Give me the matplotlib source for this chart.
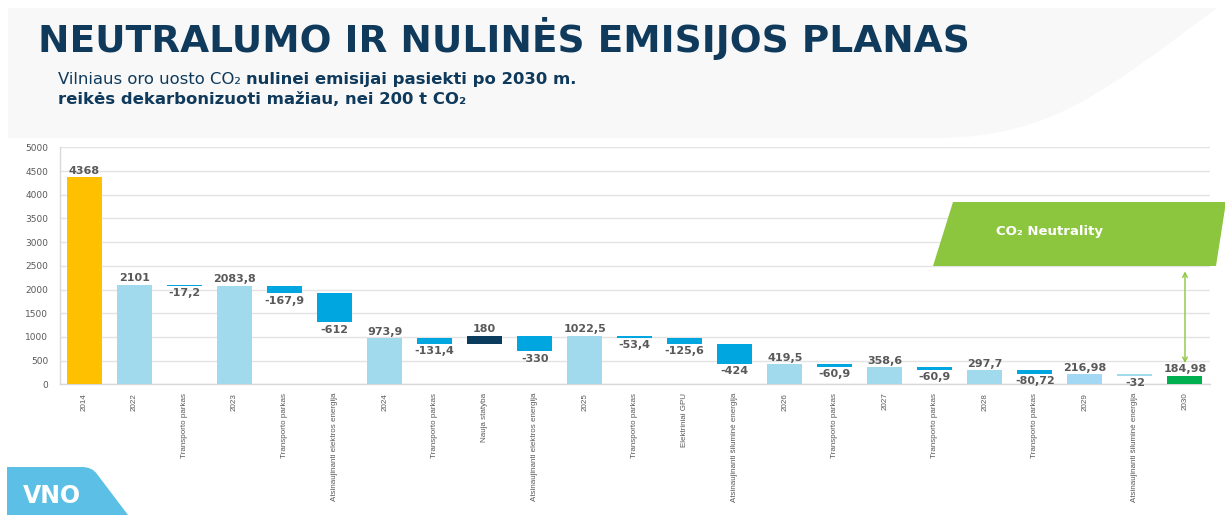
import matplotlib
matplotlib.use('Agg')
import matplotlib.pyplot as plt
from matplotlib.patches import Polygon, PathPatch
from matplotlib.path import Path

# ---------------- data ----------------
categories = ['2014', '2022', 'Transporto parkas', '2023', 'Transporto parkas',
              'Atsinaujinanti elektros energija', '2024', 'Transporto parkas',
              'Nauja statyba', 'Atsinaujinanti elektros energija', '2025',
              'Transporto parkas', 'Elektriniai GPU', 'Atsinaujinanti šiluminė energija',
              '2026', 'Transporto parkas', '2027', 'Transporto parkas', '2028',
              'Transporto parkas', '2029', 'Atsinaujinanti šiluminė energija', '2030']
values = [4368, 2101, -17.2, 2083.8, -167.9, -612, 973.9, -131.4, 180, -330,
          1022.5, -53.4, -125.6, -424, 419.5, -60.9, 358.6, -60.9, 297.7,
          -80.72, 216.98, -32, 184.98]
is_total = [True, True, False, True, False, False, True, False, False, False,
            True, False, False, False, True, False, True, False, True, False,
            True, False, True]
y_ticks = list(range(0, 5001, 500))

title = 'NEUTRALUMO IR NULINĖS EMISIJOS PLANAS'
sub1_normal = 'Vilniaus oro uosto CO₂ '
sub1_bold = 'nulinei emisijai pasiekti po 2030 m.'
sub2_bold = 'reikės dekarbonizuoti mažiau, nei 200 t CO₂'
badge_text = 'CO₂ Neutrality'
logo_text = 'VNO'

# ---------------- style ----------------
C_TOTAL = '#A0DAEC'
C_NEG = '#00A6E0'
bar_colors = ['#FFC000', C_TOTAL, C_NEG, C_TOTAL, C_NEG, C_NEG, C_TOTAL, C_NEG,
              '#0B3C5D', C_NEG, C_TOTAL, C_NEG, C_NEG, C_NEG, C_TOTAL, C_NEG,
              C_TOTAL, C_NEG, C_TOTAL, C_NEG, '#A3D8F5', C_TOTAL, '#00B050']
NAVY = '#0F3A5C'
GRAY_TXT = '#595959'
GREEN = '#8CC63F'

W, H = 1225, 515
fig = plt.figure(figsize=(W / 100, H / 100), dpi=100)
fig.patch.set_facecolor('white')

# background overlay (pixel coordinates, y downward)
bg = fig.add_axes([0, 0, 1, 1], zorder=0)
bg.set_xlim(0, W)
bg.set_ylim(H, 0)
bg.axis('off')

verts = [(8, 8), (1217, 8), (1100, 95), (1050, 136), (940, 138), (8, 138), (8, 8)]
codes = [Path.MOVETO, Path.LINETO, Path.CURVE4, Path.CURVE4, Path.CURVE4,
         Path.LINETO, Path.CLOSEPOLY]
bg.add_patch(PathPatch(Path(verts, codes), facecolor='#F8F8F8', edgecolor='none'))

# main axes
ax = fig.add_axes([59.5 / W, (H - 384.3) / H, (1210 - 59.5) / W, (384.3 - 147.3) / H],
                  zorder=2)
ax.patch.set_alpha(0)

running = 0.0
for i, (v, tot) in enumerate(zip(values, is_total)):
    if tot:
        bottom, height = 0.0, v
        running = v
    else:
        bottom, height = running, v
        running = running + v
    ax.bar(i, height, bottom=bottom, width=0.7, color=bar_colors[i],
           edgecolor='none', zorder=3)
    top = max(bottom, bottom + height)
    low = min(bottom, bottom + height)
    lab = f'{v:g}'.replace('.', ',')
    if v > 0:
        ax.annotate(lab, (i, top), xytext=(0, 1), textcoords='offset points',
                    ha='center', va='bottom', fontsize=8, fontweight='bold',
                    color=GRAY_TXT, zorder=4)
    else:
        ax.annotate(lab, (i, low), xytext=(0, -1.5), textcoords='offset points',
                    ha='center', va='top', fontsize=8, fontweight='bold',
                    color=GRAY_TXT, zorder=4)

ax.set_xlim(-0.5, len(categories) - 0.5)
ax.set_ylim(0, 5000)
ax.set_yticks(y_ticks)
ax.set_yticklabels([str(t) for t in y_ticks], fontsize=6.5, color=GRAY_TXT)
ax.set_xticks(range(len(categories)))
ax.set_xticklabels(categories, rotation=90, fontsize=5.8, color=GRAY_TXT,
                   family=['Liberation Sans', 'DejaVu Sans'])
ax.tick_params(axis='both', length=0, pad=6)
ax.tick_params(axis='y', pad=8)
ax.grid(axis='y', color='#E3E3E3', linewidth=1.0, zorder=0)
ax.set_axisbelow(True)
for s in ['top', 'right']:
    ax.spines[s].set_visible(False)
for s in ['left', 'bottom']:
    ax.spines[s].set_color('#D9D9D9')
    ax.spines[s].set_linewidth(1.0)

# arrow towards 2030 bar
ax.annotate('', xy=(len(categories) - 1, 390), xytext=(len(categories) - 1, 2440),
            arrowprops=dict(arrowstyle='<->', color=GREEN, lw=1.0,
                            mutation_scale=8), zorder=5, annotation_clip=False)

# foreground overlay
fg = fig.add_axes([0, 0, 1, 1], zorder=6)
fg.patch.set_alpha(0)
fg.set_xlim(0, W)
fg.set_ylim(H, 0)
fg.axis('off')

# green badge
fg.add_patch(Polygon([(953, 202), (1226, 202), (1216, 266), (933, 266)],
                     closed=True, facecolor=GREEN, edgecolor='none'))
fg.text(996, 231, badge_text, color='white', fontsize=9.5, fontweight='bold',
        ha='left', va='center', family='DejaVu Sans')

# VNO logo
lv = [(7, 515), (7, 467), (82, 467), (92, 467), (97, 474), (128, 515), (7, 515)]
lc = [Path.MOVETO, Path.LINETO, Path.LINETO, Path.CURVE3, Path.CURVE3,
      Path.LINETO, Path.CLOSEPOLY]
fg.add_patch(PathPatch(Path(lv, lc), facecolor='#5BBFE6', edgecolor='none'))
fg.text(23, 496, logo_text, color='white', fontsize=17, fontweight='bold',
        ha='left', va='center', family='DejaVu Sans')

# title & subtitle (auto-fit widths)
renderer = fig.canvas.get_renderer()
t = fg.text(38, 52, title, color=NAVY, fontsize=28, fontweight='bold',
            family='DejaVu Sans', ha='left', va='baseline')
w = t.get_window_extent(renderer).width
t.set_fontsize(28 * 932 / w)

fs = 11
s1 = fg.text(58, 84, sub1_normal, color=NAVY, fontsize=fs, ha='left', va='baseline',
             family='DejaVu Sans')
s1b = fg.text(0, 84, sub1_bold, color=NAVY, fontsize=fs, fontweight='bold',
              ha='left', va='baseline', family='DejaVu Sans')
w1 = s1.get_window_extent(renderer).width
w2 = s1b.get_window_extent(renderer).width
scale = 517 / (w1 + w2)
fs2 = fs * scale
s1.set_fontsize(fs2)
s1b.set_fontsize(fs2)
w1 = s1.get_window_extent(renderer).width
s1b.set_x(58 + w1)
s2 = fg.text(58, 104, sub2_bold, color=NAVY, fontsize=fs2, fontweight='bold',
             ha='left', va='baseline', family='DejaVu Sans')

fig.savefig('out.png', dpi=100)
